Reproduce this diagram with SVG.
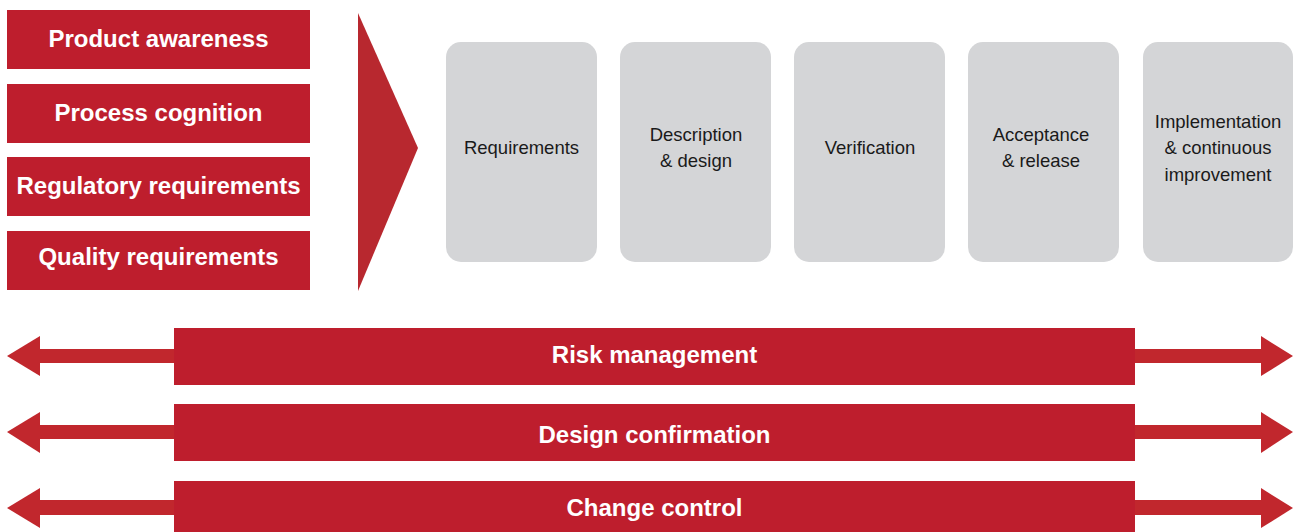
<svg xmlns="http://www.w3.org/2000/svg" width="1294" height="532" viewBox="0 0 1294 532">
<defs>
<style>
.red{fill:#be1e2d}
.tri{fill:#b8282f}
.arr{fill:#c1272d}
.gray{fill:#d4d5d7}
.wt{font-family:"Liberation Sans",Arial,sans-serif;font-weight:bold;font-size:24px;fill:#fff;text-anchor:middle}
.gt{font-family:"Liberation Sans",Arial,sans-serif;font-size:18.5px;fill:#1a1a1a;text-anchor:middle}
</style>
</defs>
<rect width="1294" height="532" fill="#fff"/>
<g id="inputs">
<g id="n-product"><rect class="red" x="7" y="10" width="303" height="59"/><text class="wt" x="158.5" y="47">Product awareness</text></g>
<g id="n-process"><rect class="red" x="7" y="84" width="303" height="59"/><text class="wt" x="158.5" y="121">Process cognition</text></g>
<g id="n-regulatory"><rect class="red" x="7" y="157" width="303" height="59"/><text class="wt" x="158.5" y="194">Regulatory requirements</text></g>
<g id="n-quality"><rect class="red" x="7" y="231" width="303" height="59"/><text class="wt" x="158.5" y="265">Quality requirements</text></g>
</g>
<g id="n-chevron"><polygon class="tri" points="358,13 418,148 358,291"/></g>
<g id="stages">
<g id="n-req"><rect class="gray" x="446" y="42" width="151" height="220" rx="15"/><text class="gt" x="521.5" y="153.5">Requirements</text></g>
<g id="n-desc"><rect class="gray" x="620" y="42" width="151" height="220" rx="15"/><text class="gt" x="696" y="140.5">Description</text><text class="gt" x="696" y="167">&amp; design</text></g>
<g id="n-ver"><rect class="gray" x="794" y="42" width="151" height="220" rx="15"/><text class="gt" x="870" y="153.5">Verification</text></g>
<g id="n-acc"><rect class="gray" x="968" y="42" width="151" height="220" rx="15"/><text class="gt" x="1041" y="140.5">Acceptance</text><text class="gt" x="1041" y="167">&amp; release</text></g>
<g id="n-impl"><rect class="gray" x="1143" y="42" width="150" height="220" rx="15"/><text class="gt" x="1218" y="127.5">Implementation</text><text class="gt" x="1218" y="154">&amp; continuous</text><text class="gt" x="1218" y="180.5">improvement</text></g>
</g>
<g id="connectors">
<g id="c-risk">
<rect class="arr" x="40" y="349" width="136" height="14"/><polygon class="arr" points="7,356 40,336 40,376"/>
<rect class="arr" x="1126" y="349" width="136" height="14"/><polygon class="arr" points="1293,356 1261,336 1261,376"/>
</g>
<g id="c-design">
<rect class="arr" x="40" y="425" width="136" height="14"/><polygon class="arr" points="7,432 40,412 40,453"/>
<rect class="arr" x="1126" y="425" width="136" height="14"/><polygon class="arr" points="1293,432 1261,412 1261,453"/>
</g>
<g id="c-change">
<rect class="arr" x="40" y="500" width="136" height="15"/><polygon class="arr" points="7,508 40,488 40,528"/>
<rect class="arr" x="1126" y="500" width="136" height="15"/><polygon class="arr" points="1293,508 1261,488 1261,528"/>
</g>
</g>
<g id="n-risk"><rect class="red" x="174" y="328" width="961" height="57"/><text class="wt" x="654.5" y="363">Risk management</text></g>
<g id="n-design"><rect class="red" x="174" y="404" width="961" height="57"/><text class="wt" x="654.5" y="443">Design confirmation</text></g>
<g id="n-change"><rect class="red" x="174" y="481" width="961" height="60"/><text class="wt" x="654.5" y="516">Change control</text></g>
</svg>
